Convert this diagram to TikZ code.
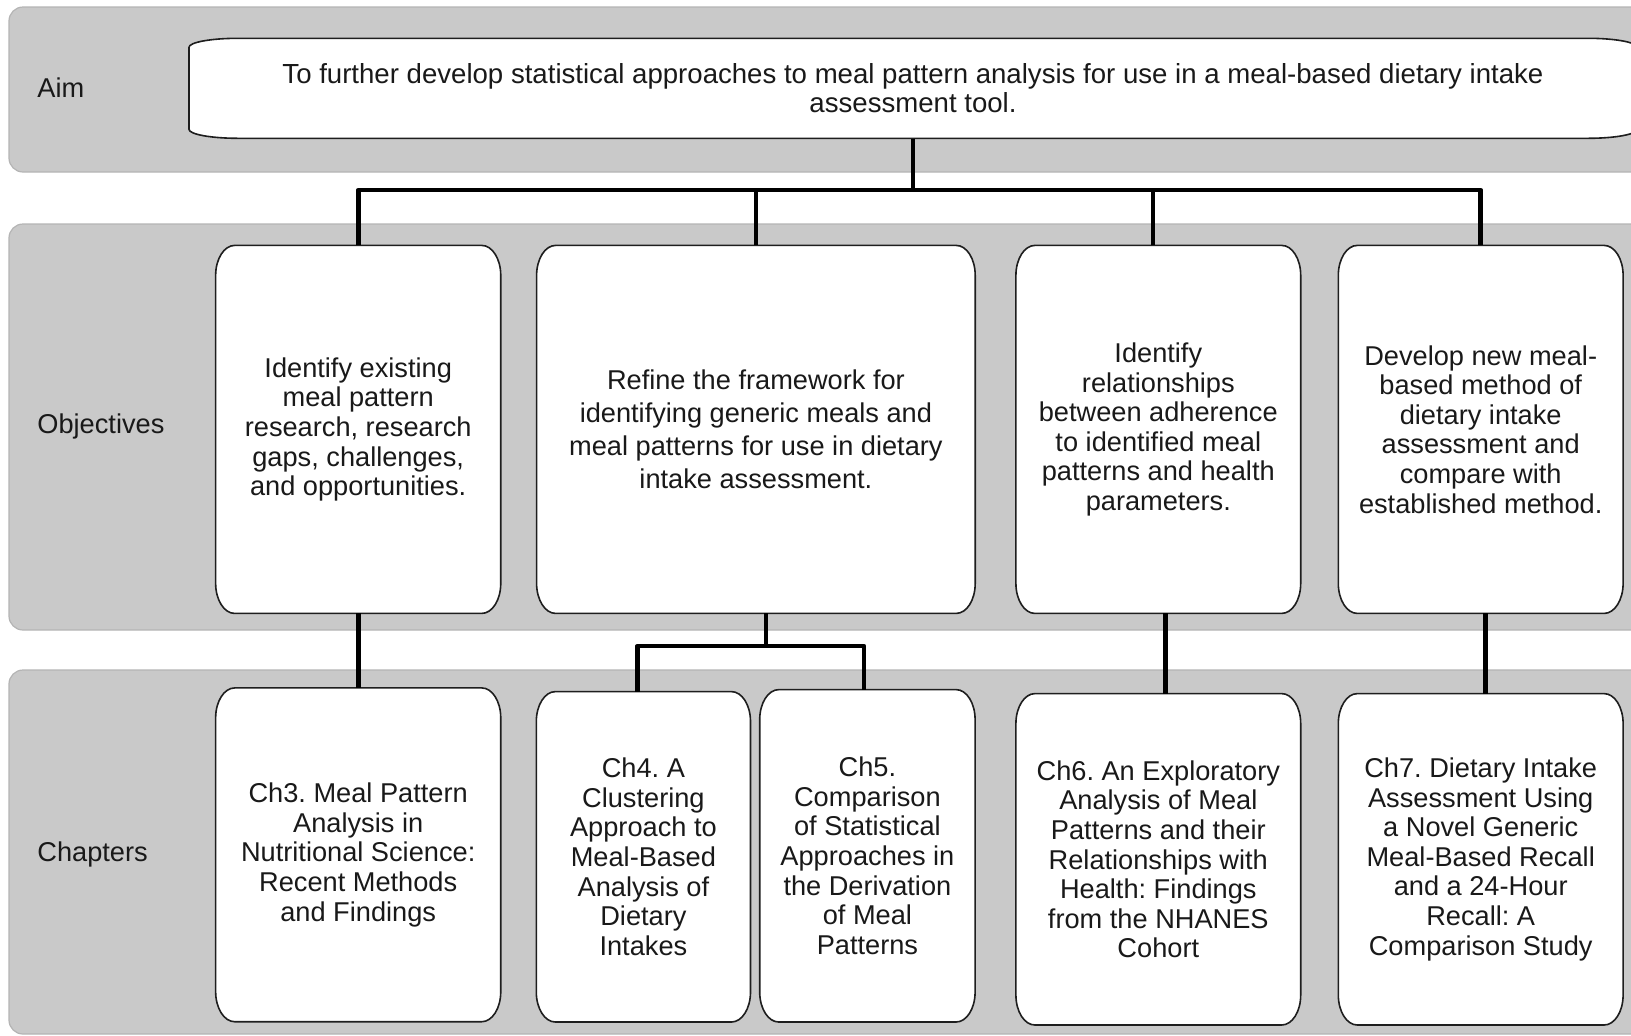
\documentclass[tikz,border=0pt]{standalone}
\usepackage{fontspec}
\setmainfont{Liberation Sans}
\usetikzlibrary{calc}
\frenchspacing
\definecolor{bandgray}{RGB}{201,201,201}
\definecolor{bandedge}{RGB}{180,180,180}
\definecolor{boxedge}{RGB}{30,30,30}
\definecolor{txt}{RGB}{25,25,25}
\pgfdeclarelayer{bandlayer}
\pgfdeclarelayer{boxlayer}
\pgfsetlayers{bandlayer,boxlayer,main}
% box outline with elliptical corners (rx=19, ry=30 in pixel units)
\newcommand\ellbox[1]{%
  \begin{pgfonlayer}{boxlayer}
  \draw[boxline]
    ($(#1.north west)+(19,0)$) -- ($(#1.north east)+(-19,0)$)
    .. controls ($(#1.north east)+(-8.5,0)$) and ($(#1.north east)+(0,13.4)$) .. ($(#1.north east)+(0,30)$)
    -- ($(#1.south east)+(0,-30)$)
    .. controls ($(#1.south east)+(0,-13.4)$) and ($(#1.south east)+(-8.5,0)$) .. ($(#1.south east)+(-19,0)$)
    -- ($(#1.south west)+(19,0)$)
    .. controls ($(#1.south west)+(8.5,0)$) and ($(#1.south west)+(0,-13.4)$) .. ($(#1.south west)+(0,-30)$)
    -- ($(#1.north west)+(0,30)$)
    .. controls ($(#1.north west)+(0,13.4)$) and ($(#1.north west)+(8.5,0)$) .. ($(#1.north west)+(19,0)$)
    -- cycle;
  \end{pgfonlayer}}
\begin{document}
\begin{tikzpicture}[x=0.5pt,y=-0.5pt,
  band/.style={fill=bandgray,draw=bandedge,line width=0.6pt,rounded corners=7pt},
  boxline/.style={draw=boxedge,fill=white,line width=0.8pt},
  boxnode/.style={align=center,text=txt,inner sep=0pt,font=\fontsize{13.6}{14.8}\selectfont},
  widebox/.style={boxnode,font=\fontsize{13.6}{16.6}\selectfont},
  rowlabel/.style={anchor=west,text=txt,inner sep=0pt,font=\fontsize{13.6}{14.8}\selectfont},
  conn/.style={line width=2.3pt,line join=round,draw=black}
]
\useasboundingbox (0,0) rectangle (1631,1035);
\clip (0,0) rectangle (1631,1035);

% background bands
\begin{pgfonlayer}{bandlayer}
\draw[band] (9,7) rectangle (1680,172);
\draw[band] (9,224) rectangle (1680,630);
\draw[band] (9,670) rectangle (1680,1034);
\end{pgfonlayer}

% aim shape
\draw[boxline]
  (238,38.3) -- (1588,38.3) .. controls (1615,38.3) and (1637,42.3) .. (1637,47.3)
  -- (1637,129.3) .. controls (1637,134.3) and (1615,138.3) .. (1588,138.3)
  -- (238,138.3) .. controls (211,138.3) and (189,134.3) .. (189,129.3)
  -- (189,47.3) .. controls (189,42.3) and (211,38.3) .. (238,38.3) -- cycle;

\node[boxnode,minimum width=724pt,minimum height=50pt,
  font=\fontsize{13.8}{14.2}\selectfont] (aim) at (913,88.3)
  {To further develop statistical approaches to meal pattern analysis for use in a meal-based dietary intake\\assessment tool.};

% row labels
\node[rowlabel] (laim) at (37,88) {Aim};
\node[rowlabel] (lobj) at (37,426.5) {Objectives};
\node[rowlabel] (lch) at (37,854) {Chapters};

% objectives
\node[boxnode,minimum width=142.15pt,minimum height=183.6pt] (O1) at (358.2,429.4)
  {Identify existing\\meal pattern\\research, research\\gaps, challenges,\\and opportunities.};
\node[widebox,minimum width=218.9pt,minimum height=183.6pt] (O2) at (755.9,429.4)
  {Refine the framework for\\identifying generic meals and\\meal patterns for use in dietary\\intake assessment.};
\node[boxnode,minimum width=142pt,minimum height=183.6pt] (O3) at (1158.3,429.4)
  {Identify\\relationships\\between adherence\\to identified meal\\patterns and health\\parameters.};
\node[boxnode,minimum width=142pt,minimum height=183.6pt] (O4) at (1480.7,429.4)
  {Develop new meal-\\based method of\\dietary intake\\assessment and\\compare with\\established method.};

% chapters
\node[boxnode,minimum width=142.15pt,minimum height=166.5pt] (Ch3) at (358.2,854.8)
  {Ch3. Meal Pattern\\Analysis in\\Nutritional Science:\\Recent Methods\\and Findings};
\node[boxnode,minimum width=106.7pt,minimum height=164.8pt] (Ch4) at (643.4,856.8)
  {Ch4. A\\Clustering\\Approach to\\Meal-Based\\Analysis of\\Dietary\\Intakes};
\node[boxnode,minimum width=107.3pt,minimum height=165.8pt] (Ch5) at (867.4,855.8)
  {Ch5.\\Comparison\\of Statistical\\Approaches in\\the Derivation\\of Meal\\Patterns};
\node[boxnode,minimum width=142pt,minimum height=165.3pt] (Ch6) at (1158.3,859.3)
  {Ch6. An Exploratory\\Analysis of Meal\\Patterns and their\\Relationships with\\Health: Findings\\from the NHANES\\Cohort};
\node[boxnode,minimum width=142pt,minimum height=165.3pt] (Ch7) at (1480.7,859.3)
  {Ch7. Dietary Intake\\Assessment Using\\a Novel Generic\\Meal-Based Recall\\and a 24-Hour\\Recall: A\\Comparison Study};

\ellbox{O1}\ellbox{O2}\ellbox{O3}\ellbox{O4}
\ellbox{Ch3}\ellbox{Ch4}\ellbox{Ch5}\ellbox{Ch6}\ellbox{Ch7}

% connectors: aim -> objectives
\coordinate (j1) at (913,190);
\coordinate (o3top) at ([xshift=-2.75pt]O3.north);
\draw[conn] (aim.south) -- (j1);
\draw[conn] (O1.north) |- (j1) -| (O4.north);
\draw[conn] (O2.north) -- (O2.north |- j1);
\draw[conn] (o3top) -- (o3top |- j1);

% objectives -> chapters
\draw[conn] (O1.south) -- (Ch3.north);
\coordinate (j2) at (766,646);
\coordinate (c4top) at ([xshift=-3pt]Ch4.north);
\coordinate (c5top) at ([xshift=-1.75pt]Ch5.north);
\draw[conn] (O2.south -| j2) -- (j2);
\draw[conn] (c4top) |- (j2) -| (c5top);
\coordinate (c6top) at ([xshift=3.5pt]Ch6.north);
\draw[conn] (O3.south -| c6top) -- (c6top);
\coordinate (c7top) at ([xshift=2.4pt]Ch7.north);
\draw[conn] (O4.south -| c7top) -- (c7top);
\end{tikzpicture}
\end{document}
